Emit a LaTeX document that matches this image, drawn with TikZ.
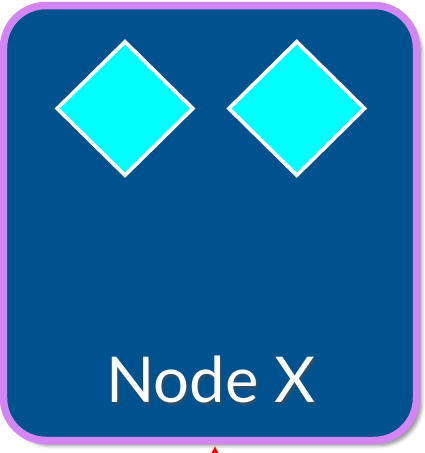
\documentclass[tikz,border=0pt]{standalone}
\usepackage{fontspec}
\setmainfont{Lato}
\usetikzlibrary{arrows.meta,positioning,shapes.geometric,shadows.blur}

\definecolor{boxblue}{HTML}{00528F}
\definecolor{boxedge}{HTML}{D386F2}
\definecolor{gem}{HTML}{00FFFF}

\begin{document}
\begin{tikzpicture}[
    >=Triangle,
    card/.style={draw=boxedge, fill=boxblue, line width=1.5mm, rounded corners=0.85cm,
        minimum width=8.26cm, minimum height=8.7cm,
        blur shadow={shadow xshift=0.1cm, shadow yshift=-0.1cm, shadow blur steps=6, shadow opacity=45}},
    gem/.style={draw=white, fill=gem, diamond, line width=0.75mm, inner sep=0pt,
        minimum width=2.74cm, minimum height=2.7cm},
    label/.style={text=white, font=\fontsize{36}{42}\selectfont}
]

\useasboundingbox (0,0) rectangle (8.5,-9.06);

% Caja
\node[card] (nodex) at (4.2,-4.46) {};

% Rombos
\node[gem] (gemleft) at (2.5,-2.17) {};
\node[gem, right=0.62cm of gemleft] (gemright) {};

% Texto
\node[label, text=black!70, opacity=0.55, anchor=base] at (4.26,-8.1) {Node X};
\node[label, anchor=base] (name) at (4.22,-8.05) {Node X};

% Entrada
\coordinate (in) at (4.3,-10);
\draw[->, red, line width=0.8mm, >={Triangle[length=5mm, width=5mm]}] (in) -- ([yshift=-0.04cm]nodex.south -| in);

\end{tikzpicture}
\end{document}
